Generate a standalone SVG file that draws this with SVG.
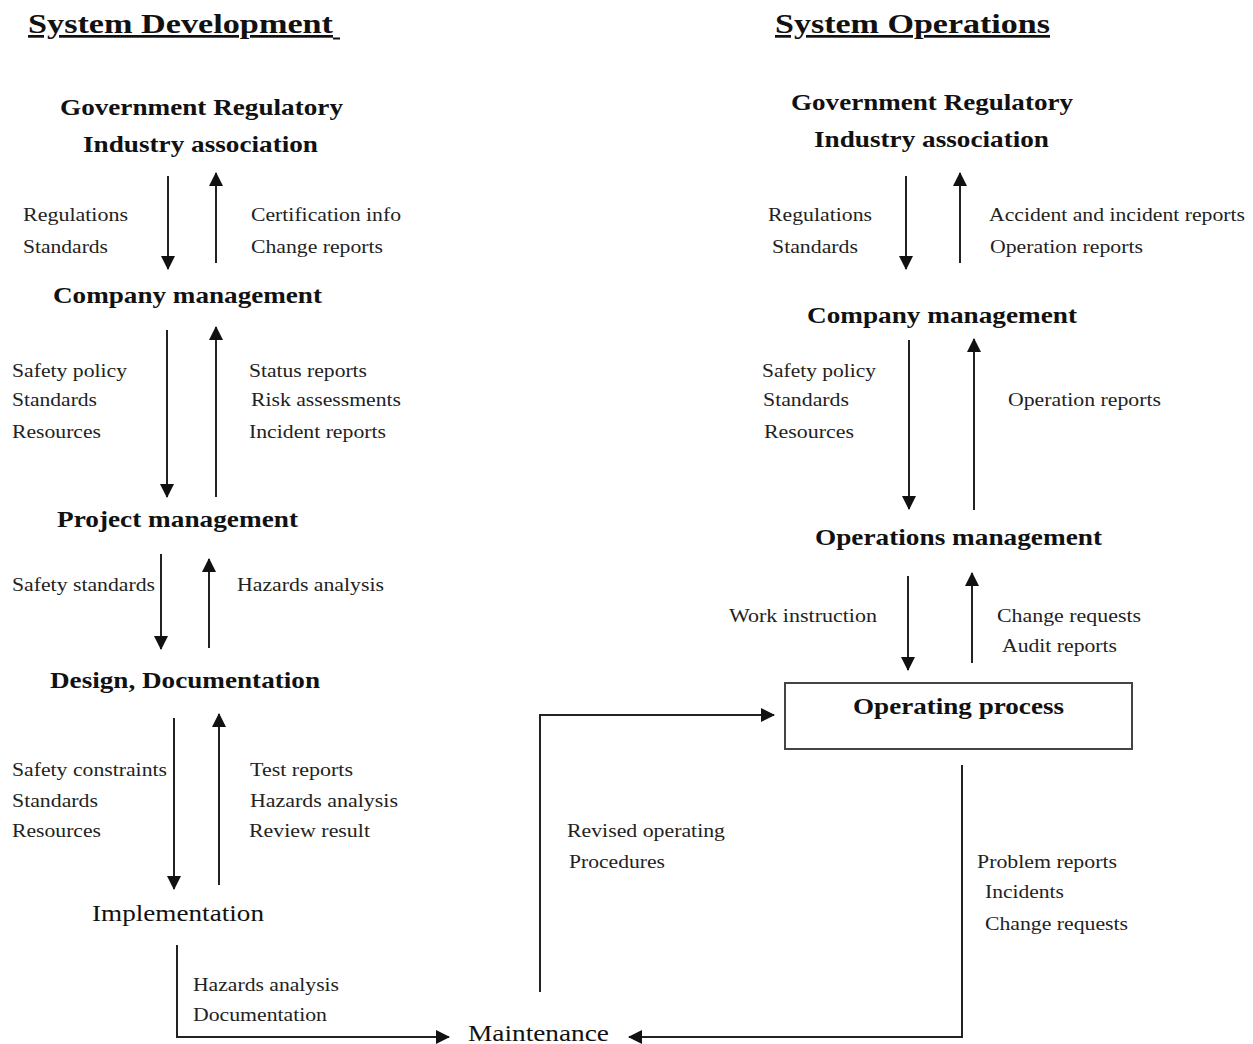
<svg xmlns="http://www.w3.org/2000/svg" width="1253" height="1044" viewBox="0 0 1253 1044" font-family="'Liberation Serif', 'Times New Roman', serif">
  <defs>
    <marker id="ah" markerUnits="userSpaceOnUse" markerWidth="14" markerHeight="14" viewBox="0 0 14 14" refX="13" refY="7" orient="auto">
      <path d="M0,0 L14,7 L0,14 Z" fill="#111"/>
    </marker>
    <style>
      text { font-family: "Liberation Serif", "Times New Roman", serif; }
      .title { font-size: 27px; font-weight: bold; fill: #111; text-decoration: underline; }
      .node { font-size: 23px; font-weight: bold; fill: #111; }
      .plain { font-size: 23px; fill: #111; }
      .lbl { font-size: 18.5px; fill: #222; }
      .arr { stroke: #222; stroke-width: 2; fill: none; marker-end: url(#ah); }
    </style>
  </defs>
  <rect width="1253" height="1044" fill="#fff"/>

  <!-- section headings -->
  <g id="heading-dev">
    <text class="title" x="28" y="33" textLength="305" lengthAdjust="spacingAndGlyphs">System Development</text>
    <line x1="333" y1="38.5" x2="340" y2="38.5" stroke="#111" stroke-width="2"/>
  </g>
  <g id="heading-ops">
    <text class="title" x="775" y="33" textLength="275" lengthAdjust="spacingAndGlyphs">System Operations</text>
  </g>

  <!-- System development nodes -->
  <g id="dev-regulators">
    <text class="node" x="60" y="115" textLength="283" lengthAdjust="spacingAndGlyphs">Government Regulatory</text>
    <text class="node" x="83" y="152" textLength="235" lengthAdjust="spacingAndGlyphs">Industry association</text>
  </g>
  <g id="dev-company">
    <text class="node" x="53" y="303" textLength="269" lengthAdjust="spacingAndGlyphs">Company management</text>
  </g>
  <g id="dev-project">
    <text class="node" x="57" y="527" textLength="241" lengthAdjust="spacingAndGlyphs">Project management</text>
  </g>
  <g id="dev-design">
    <text class="node" x="50" y="688" textLength="270" lengthAdjust="spacingAndGlyphs">Design, Documentation</text>
  </g>
  <g id="dev-implementation">
    <text class="plain" x="92" y="921" textLength="172" lengthAdjust="spacingAndGlyphs">Implementation</text>
  </g>
  <g id="maintenance">
    <text class="plain" x="468" y="1041" textLength="141" lengthAdjust="spacingAndGlyphs">Maintenance</text>
  </g>

  <!-- System operations nodes -->
  <g id="ops-regulators">
    <text class="node" x="791" y="110" textLength="282" lengthAdjust="spacingAndGlyphs">Government Regulatory</text>
    <text class="node" x="814" y="147" textLength="235" lengthAdjust="spacingAndGlyphs">Industry association</text>
  </g>
  <g id="ops-company">
    <text class="node" x="807" y="323" textLength="270" lengthAdjust="spacingAndGlyphs">Company management</text>
  </g>
  <g id="ops-management">
    <text class="node" x="815" y="545" textLength="287" lengthAdjust="spacingAndGlyphs">Operations management</text>
  </g>
  <g id="operating-process">
    <rect x="785" y="683" width="347" height="66" fill="none" stroke="#444" stroke-width="2"/>
    <text class="node" x="853" y="714" textLength="211" lengthAdjust="spacingAndGlyphs">Operating process</text>
  </g>

  <!-- connectors -->
  <g id="connectors">
    <line class="arr" x1="168" y1="176" x2="168" y2="269"/>
    <line class="arr" x1="216" y1="263" x2="216" y2="173"/>
    <line class="arr" x1="167" y1="330" x2="167" y2="497"/>
    <line class="arr" x1="216" y1="497" x2="216" y2="327"/>
    <line class="arr" x1="161" y1="554" x2="161" y2="649"/>
    <line class="arr" x1="209" y1="648" x2="209" y2="559"/>
    <line class="arr" x1="174" y1="718" x2="174" y2="889"/>
    <line class="arr" x1="219" y1="885" x2="219" y2="714"/>
    <polyline class="arr" points="177,945 177,1037 449,1037"/>
    <polyline class="arr" points="540,992 540,715 774,715"/>
    <polyline class="arr" points="962,765 962,1037 629,1037"/>

    <line class="arr" x1="906" y1="176" x2="906" y2="269"/>
    <line class="arr" x1="960" y1="263" x2="960" y2="173"/>
    <line class="arr" x1="909" y1="340" x2="909" y2="509"/>
    <line class="arr" x1="974" y1="510" x2="974" y2="339"/>
    <line class="arr" x1="908" y1="576" x2="908" y2="670"/>
    <line class="arr" x1="972" y1="663" x2="972" y2="573"/>
  </g>

  <!-- connector labels -->
  <g id="labels">
    <text class="lbl" x="23" y="221" textLength="105" lengthAdjust="spacingAndGlyphs">Regulations</text>
    <text class="lbl" x="23" y="253" textLength="85" lengthAdjust="spacingAndGlyphs">Standards</text>
    <text class="lbl" x="251" y="221" textLength="150" lengthAdjust="spacingAndGlyphs">Certification info</text>
    <text class="lbl" x="251" y="253" textLength="132" lengthAdjust="spacingAndGlyphs">Change reports</text>

    <text class="lbl" x="12" y="377" textLength="115" lengthAdjust="spacingAndGlyphs">Safety policy</text>
    <text class="lbl" x="12" y="406" textLength="85" lengthAdjust="spacingAndGlyphs">Standards</text>
    <text class="lbl" x="12" y="438" textLength="89" lengthAdjust="spacingAndGlyphs">Resources</text>
    <text class="lbl" x="249" y="377" textLength="118" lengthAdjust="spacingAndGlyphs">Status reports</text>
    <text class="lbl" x="251" y="406" textLength="150" lengthAdjust="spacingAndGlyphs">Risk assessments</text>
    <text class="lbl" x="249" y="438" textLength="137" lengthAdjust="spacingAndGlyphs">Incident reports</text>

    <text class="lbl" x="12" y="591" textLength="143" lengthAdjust="spacingAndGlyphs">Safety standards</text>
    <text class="lbl" x="237" y="591" textLength="147" lengthAdjust="spacingAndGlyphs">Hazards analysis</text>

    <text class="lbl" x="12" y="776" textLength="155" lengthAdjust="spacingAndGlyphs">Safety constraints</text>
    <text class="lbl" x="12" y="807" textLength="86" lengthAdjust="spacingAndGlyphs">Standards</text>
    <text class="lbl" x="12" y="837" textLength="89" lengthAdjust="spacingAndGlyphs">Resources</text>
    <text class="lbl" x="250" y="776" textLength="103" lengthAdjust="spacingAndGlyphs">Test reports</text>
    <text class="lbl" x="250" y="807" textLength="148" lengthAdjust="spacingAndGlyphs">Hazards analysis</text>
    <text class="lbl" x="249" y="837" textLength="121" lengthAdjust="spacingAndGlyphs">Review result</text>

    <text class="lbl" x="193" y="991" textLength="146" lengthAdjust="spacingAndGlyphs">Hazards analysis</text>
    <text class="lbl" x="193" y="1021" textLength="134" lengthAdjust="spacingAndGlyphs">Documentation</text>

    <text class="lbl" x="567" y="837" textLength="158" lengthAdjust="spacingAndGlyphs">Revised operating</text>
    <text class="lbl" x="569" y="868" textLength="96" lengthAdjust="spacingAndGlyphs">Procedures</text>

    <text class="lbl" x="977" y="868" textLength="140" lengthAdjust="spacingAndGlyphs">Problem reports</text>
    <text class="lbl" x="985" y="898" textLength="79" lengthAdjust="spacingAndGlyphs">Incidents</text>
    <text class="lbl" x="985" y="930" textLength="143" lengthAdjust="spacingAndGlyphs">Change requests</text>

    <text class="lbl" x="768" y="221" textLength="104" lengthAdjust="spacingAndGlyphs">Regulations</text>
    <text class="lbl" x="772" y="253" textLength="86" lengthAdjust="spacingAndGlyphs">Standards</text>
    <text class="lbl" x="989" y="221" textLength="256" lengthAdjust="spacingAndGlyphs">Accident and incident reports</text>
    <text class="lbl" x="990" y="253" textLength="153" lengthAdjust="spacingAndGlyphs">Operation reports</text>

    <text class="lbl" x="762" y="377" textLength="114" lengthAdjust="spacingAndGlyphs">Safety policy</text>
    <text class="lbl" x="763" y="406" textLength="86" lengthAdjust="spacingAndGlyphs">Standards</text>
    <text class="lbl" x="764" y="438" textLength="90" lengthAdjust="spacingAndGlyphs">Resources</text>
    <text class="lbl" x="1008" y="406" textLength="153" lengthAdjust="spacingAndGlyphs">Operation reports</text>

    <text class="lbl" x="729" y="622" textLength="148" lengthAdjust="spacingAndGlyphs">Work instruction</text>
    <text class="lbl" x="997" y="622" textLength="144" lengthAdjust="spacingAndGlyphs">Change requests</text>
    <text class="lbl" x="1002" y="652" textLength="115" lengthAdjust="spacingAndGlyphs">Audit reports</text>
  </g>
</svg>
